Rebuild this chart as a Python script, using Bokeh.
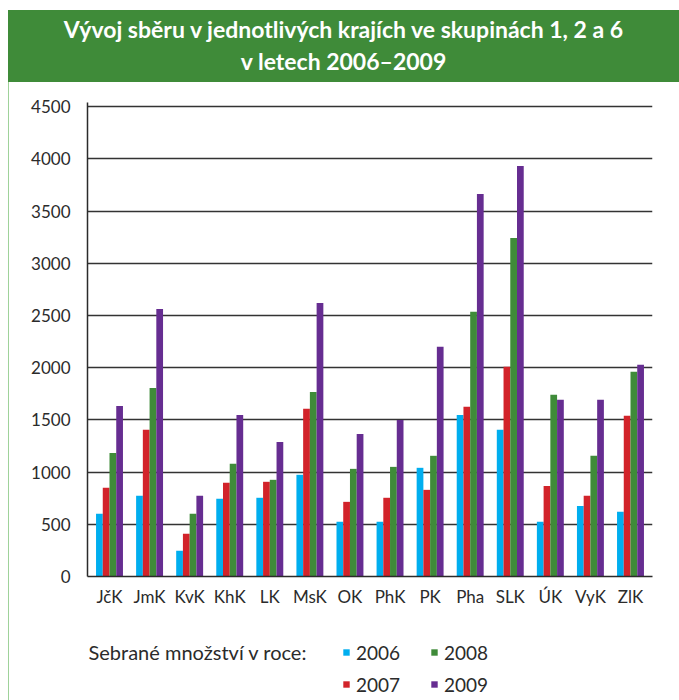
from bokeh.plotting import figure
from bokeh.layouts import column
from bokeh.models import (ColumnDataSource, FactorRange, Range1d, Legend, LegendItem,
                          Label, SingleIntervalTicker, Div)
from bokeh.transform import dodge
from bokeh.embed import file_html
from bokeh.resources import INLINE

# ---- data ----
title_line1 = "Vývoj sběru v jednotlivých krajích ve skupinách 1, 2 a 6"
title_line2 = "v letech 2006–2009"
regions = ["JčK", "JmK", "KvK", "KhK", "LK", "MsK", "OK", "PhK", "PK", "Pha", "SLK", "ÚK", "VyK", "ZlK"]
years = ["2006", "2007", "2008", "2009"]
v2006 = [600, 773, 246, 744, 754, 974, 524, 524, 1041, 1548, 1405, 524, 676, 619]
v2007 = [849, 1405, 409, 897, 907, 1606, 715, 754, 830, 1625, 2008, 868, 773, 1539]
v2008 = [1184, 1806, 600, 1079, 926, 1768, 1031, 1050, 1156, 2535, 3242, 1740, 1156, 1960]
v2009 = [1634, 2563, 773, 1548, 1289, 2620, 1366, 1500, 2200, 3664, 3931, 1692, 1692, 2027]
legend_title = "Sebrané množství v roce:"
y_step = 500

colors = ["#00AEEF", "#D2232A", "#3F8B39", "#662D91"]
GREEN = "#3F8B39"
FONT = "Lato"
TXT = "#2b2b2b"
BORDER = {"border-left": "1px solid #9fd29a"}

# ---- banner ----
banner = Div(text=title_line1 + "<br>" + title_line2, width=671, height=72, margin=0,
             styles={"background-color": GREEN, "color": "white", "font-family": FONT,
                     "font-weight": "bold", "font-size": "23px", "line-height": "32px",
                     "text-align": "center", "box-sizing": "border-box",
                     "padding-top": "3px"})

# ---- chart ----
src = ColumnDataSource(dict(region=regions, y2006=v2006, y2007=v2007, y2008=v2008, y2009=v2009))
xr = FactorRange(*regions, range_padding=0.007)

p = figure(width=670, height=533, x_range=xr,
           y_range=Range1d(0, 4540), output_backend="svg", toolbar_location=None,
           min_border_left=78, min_border_right=27, min_border_top=20, min_border_bottom=39,
           outline_line_color=None, background_fill_color="white", styles=BORDER)

w = 0.168
offsets = [-1.5 * w, -0.5 * w, 0.5 * w, 1.5 * w]
for yr, off, c in zip(years, offsets, colors):
    p.vbar(x=dodge("region", off, range=xr), top="y" + yr, width=w, source=src,
           fill_color=c, line_color=None)

p.yaxis.ticker = SingleIntervalTicker(interval=y_step)
p.ygrid.ticker = SingleIntervalTicker(interval=y_step)
p.xgrid.visible = False
p.ygrid.grid_line_color = "#333333"
p.ygrid.grid_line_width = 1.4

for ax in (p.xaxis[0], p.yaxis[0]):
    ax.axis_line_color = "#2b2b2b"
    ax.axis_line_width = 1.5
    ax.major_tick_line_color = None
    ax.minor_tick_line_color = None
    ax.major_label_text_font = FONT
    ax.major_label_text_color = TXT
    ax.major_label_text_font_size = "17px"
p.xaxis.major_label_standoff = 3
p.yaxis.major_label_standoff = 11

# ---- legend strip (same data, bars kept out of its visible y range) ----
lg = figure(width=670, height=85, x_range=xr, y_range=Range1d(10000, 10001),
            output_backend="svg", toolbar_location=None,
            min_border_left=78, min_border_right=27, min_border_top=0, min_border_bottom=0,
            outline_line_color=None, styles=BORDER)
lg.axis.visible = False
lg.grid.visible = False
items = []
for yr, off, c in zip(years, offsets, colors):
    r = lg.vbar(x=dodge("region", off, range=xr), top="y" + yr, width=w, source=src,
                fill_color=c, line_color=None)
    items.append(LegendItem(label=yr, renderers=[r]))
legend = Legend(items=items, ncols=2, orientation="vertical", location=(255, 2),
                glyph_width=8, glyph_height=8, label_standoff=6, label_width=70,
                label_height=28, spacing=4, padding=0, margin=0,
                border_line_color=None, background_fill_alpha=0,
                label_text_font=FONT, label_text_font_size="19px", label_text_color=TXT)
lg.add_layout(legend)
lg.add_layout(Label(x=1, y=49, x_units="screen", y_units="screen", text=legend_title,
                    text_baseline="middle", text_font=FONT, text_font_size="20px",
                    text_color=TXT))

layout = column(banner, p, lg, spacing=0, margin=(10, 0, 0, 8))
open("out.html", "w").write(file_html(layout, INLINE))
